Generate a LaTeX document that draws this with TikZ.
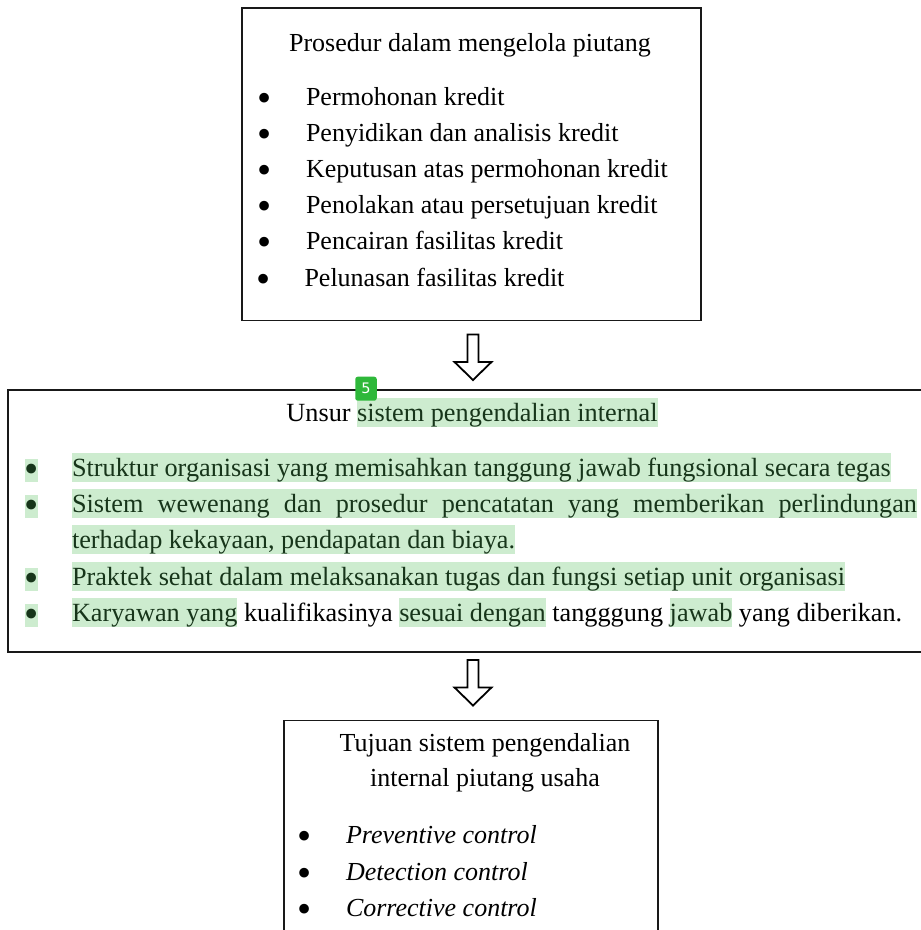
\documentclass[tikz,border=0pt]{standalone}
\usepackage{graphicx}
\usepackage{fontspec}
\setmainfont{Liberation Serif}
\newfontfamily\badgefont{DejaVu Sans}
\definecolor{hlgreen}{HTML}{CDECCF}
\definecolor{hltext}{HTML}{17351A}
\definecolor{badgegreen}{HTML}{2EB83A}
\newcommand{\hlb}[1]{{\setlength{\fboxsep}{0pt}\colorbox{hlgreen}{\rule[-5.5pt]{0pt}{29pt}\color{hltext}#1}}}
\newcommand{\bul}{\smash{\raisebox{-6pt}{\scalebox{1.55}{\textbullet}}}}
\newcommand{\hlbul}{{\setlength{\fboxsep}{0pt}\colorbox{hlgreen}{\rule[-5pt]{0pt}{22.5pt}\color{hltext}\makebox[12.7pt]{\bul}}}}
\tikzset{
  txt/.style={inner sep=0pt, outer sep=0pt, font=\fontsize{26}{31}\selectfont},
  mtxt/.style={inner sep=0pt, outer sep=0pt, font=\fontsize{26.25}{31}\selectfont},
  boxline/.style={draw=black!90, line width=1.8pt},
  arrowline/.style={draw=black, line width=1.8pt, fill=white, line join=miter},
  downarrow/.pic={\path[arrowline] (-5.5,0) -- (5.5,0) -- (5.5,-27.5) -- (18.5,-27.5) -- (0,-45.5) -- (-18.5,-27.5) -- (-5.5,-27.5) -- cycle;}
}
\begin{document}
\begin{tikzpicture}[x=1pt,y=1pt]
\useasboundingbox (0,0) rectangle (921,-930);
\fill[white] (0,0) rectangle (921,-930);

% top box
\node[boxline, anchor=north west, minimum width=459pt, minimum height=312.5pt, inner sep=0pt] (box1) at (241,-7) {};
\node[txt, anchor=base] (title1) at (470,-51.7) {Prosedur dalam mengelola piutang};
\node[txt, anchor=base] (pb1) at (265,-105) {\bul};
\node[txt, anchor=base west] (p1) at (306,-105) {Permohonan kredit};
\node[txt, anchor=base] (pb2) at (265,-141) {\bul};
\node[txt, anchor=base west] (p2) at (306,-141) {Penyidikan dan analisis kredit};
\node[txt, anchor=base] (pb3) at (265,-177) {\bul};
\node[txt, anchor=base west] (p3) at (306,-177) {Keputusan atas permohonan kredit};
\node[txt, anchor=base] (pb4) at (265,-213) {\bul};
\node[txt, anchor=base west] (p4) at (306,-213) {Penolakan atau persetujuan kredit};
\node[txt, anchor=base] (pb5) at (265,-249.5) {\bul};
\node[txt, anchor=base west] (p5) at (306,-249.5) {Pencairan fasilitas kredit};
\node[txt, anchor=base] (pb6) at (264,-286) {\bul};
\node[txt, anchor=base west] (p6) at (304.5,-286) {Pelunasan fasilitas kredit};

% arrow 1
\pic at (473,-334.5) {downarrow};

% middle box (runs off the right edge)
\node[boxline, anchor=north west, minimum width=930pt, minimum height=262pt, inner sep=0pt] (box2) at (7,-389) {};
\node[mtxt, anchor=base] (title2) at (472,-421.7) {Unsur \hlb{sistem pengendalian internal}};
\node[fill=badgegreen, rounded corners=2.5pt, minimum width=21.5pt, minimum height=24pt, inner sep=0pt, text=white, font=\badgefont\fontsize{14.5}{14.5}\selectfont] (badge) at (366,-388.7) {5};

\node[mtxt, anchor=base] (sb1) at (31.3,-476.7) {\hlbul};
\node[mtxt, anchor=base west] (s1) at (72,-476.7) {\hlb{Struktur organisasi yang memisahkan tanggung jawab fungsional secara tegas}};
\node[mtxt, anchor=base] (sb2) at (31.3,-512.7) {\hlbul};
\node[mtxt, anchor=base west] (s2) at (72,-512.7) {\hlb{\makebox[845pt][s]{Sistem wewenang dan prosedur pencatatan yang memberikan perlindungan}}};
\node[mtxt, anchor=base west] (s2b) at (72,-548.3) {\hlb{terhadap kekayaan, pendapatan dan biaya.}};
\node[mtxt, anchor=base] (sb3) at (31.3,-585.7) {\hlbul};
\node[mtxt, anchor=base west] (s3) at (72,-585.7) {\hlb{Praktek sehat dalam melaksanakan tugas dan fungsi setiap unit organisasi}};
\node[mtxt, anchor=base] (sb4) at (31.3,-621.7) {\hlbul};
\node[mtxt, anchor=base west] (s4) at (72,-621.7) {\hlb{Karyawan yang} kualifikasinya \hlb{sesuai dengan} tangggung \hlb{jawab} yang diberikan.};

% arrow 2
\pic at (473,-660) {downarrow};

% bottom box (runs off the bottom edge)
\node[boxline, anchor=north west, minimum width=374pt, minimum height=240pt, inner sep=0pt] (box3) at (283,-719.5) {};
\node[txt, anchor=base] (title3a) at (485,-751.7) {Tujuan sistem pengendalian};
\node[txt, anchor=base] (title3b) at (485,-786.7) {internal piutang usaha};
\node[txt, anchor=base] (tb1) at (305,-843.3) {\bul};
\node[txt, anchor=base west, font=\fontsize{26}{31}\selectfont\itshape] (t1) at (346,-843.3) {Preventive control};
\node[txt, anchor=base] (tb2) at (305,-880) {\bul};
\node[txt, anchor=base west, font=\fontsize{26}{31}\selectfont\itshape] (t2) at (346,-880) {Detection control};
\node[txt, anchor=base] (tb3) at (305,-916.7) {\bul};
\node[txt, anchor=base west, font=\fontsize{26}{31}\selectfont\itshape] (t3) at (346,-916.7) {Corrective control};
\end{tikzpicture}
\end{document}
